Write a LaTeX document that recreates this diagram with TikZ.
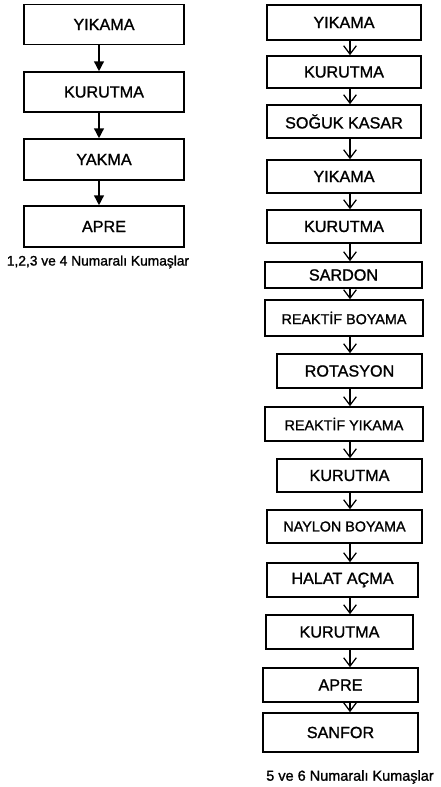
\documentclass[tikz,border=0pt]{standalone}
\usepackage{fontspec}
\setmainfont{Liberation Sans}[BoldFont={Liberation Sans}, BoldFeatures={FakeBold=1.2}]
\usetikzlibrary{arrows.meta}

\newcommand\kucuk{\fontsize{10.2}{12}\selectfont}

\tikzset{
    box/.style={draw, line width=1.1pt, inner sep=0pt, font=\fontsize{11.5}{13}\selectfont\bfseries},
    okA/.style={-{Triangle[length=7pt,width=7pt]}, line width=1pt},
    okB/.style={-{Straight Barb[length=6pt,width=9pt]}, line width=0.9pt},
}

\begin{document}
\begin{tikzpicture}[x=0.025cm, y=-0.025cm]
    % --- sayfa sinirlari ---
    \useasboundingbox (0,0) rectangle (440,787);

    % --- sol akis: 1,2,3 ve 4 ---
    \node[box, minimum width=4cm, minimum height=1cm]    (l1) at (104, 24.5) {YIKAMA};
    \node[box, minimum width=4cm, minimum height=1cm]    (l2) at (104, 92)   {KURUTMA};
    \node[box, minimum width=4cm, minimum height=1.025cm] (l3) at (104, 159.5) {YAKMA};
    \node[box, minimum width=4cm, minimum height=1.025cm] (l4) at (104, 226.5) {APRE};
    \node[font=\fontsize{9.8}{11}\selectfont\bfseries] (cap1) at (98, 262) {1,2,3 ve 4 Numaralı Kumaşlar};

    \draw[okA] (l1.south -| 99,0) -- (l2.north -| 99,0);
    \draw[okA] (l2.south -| 99,0) -- (l3.north -| 99,0);
    \draw[okA] (l3.south -| 99,0) -- (l4.north -| 99,0);

    % --- sag akis: 5 ve 6 ---
    % ad / x1 / x2 / y1 / y2 / yazi
    \foreach \n/\xa/\xb/\ya/\yb/\t in {
        1/267/421/5/40/YIKAMA,
        2/267/421/56/88/KURUTMA,
        3/267/421/105/138/SOĞUK KASAR,
        4/267/421/160/193/YIKAMA,
        5/267/421/210/243/KURUTMA,
        6/265/422/262/288/SARDON,
        7/265/423/300/336/\kucuk REAKTİF BOYAMA,
        8/277/422/354/388/ROTASYON,
        9/265/423/407/441/\kucuk REAKTİF YIKAMA,
        10/277/422/459/492/KURUTMA,
        11/267/422/510/543/\kucuk NAYLON BOYAMA,
        12/267/418/563/597/HALAT AÇMA,
        13/266/413/615/649/KURUTMA,
        14/263/418/668/702/APRE,
        15/263/418/713/752/SANFOR}
    {
        \node[box, minimum width={(\xb-\xa)*0.025cm}, minimum height={(\yb-\ya)*0.025cm}]
            (r\n) at ({(\xa+\xb)/2}, {(\ya+\yb)/2}) {\t};
    }
    \coordinate (ok) at (350, 0);
    \foreach \i [count=\j from 2] in {1,...,14}
        \draw[okB] (r\i.south -| ok) -- (r\j.north -| ok);

    \node[font=\fontsize{10.3}{12}\selectfont\bfseries] (cap2) at (350, 777) {5 ve 6 Numaralı Kumaşlar};

\end{tikzpicture}
\end{document}
